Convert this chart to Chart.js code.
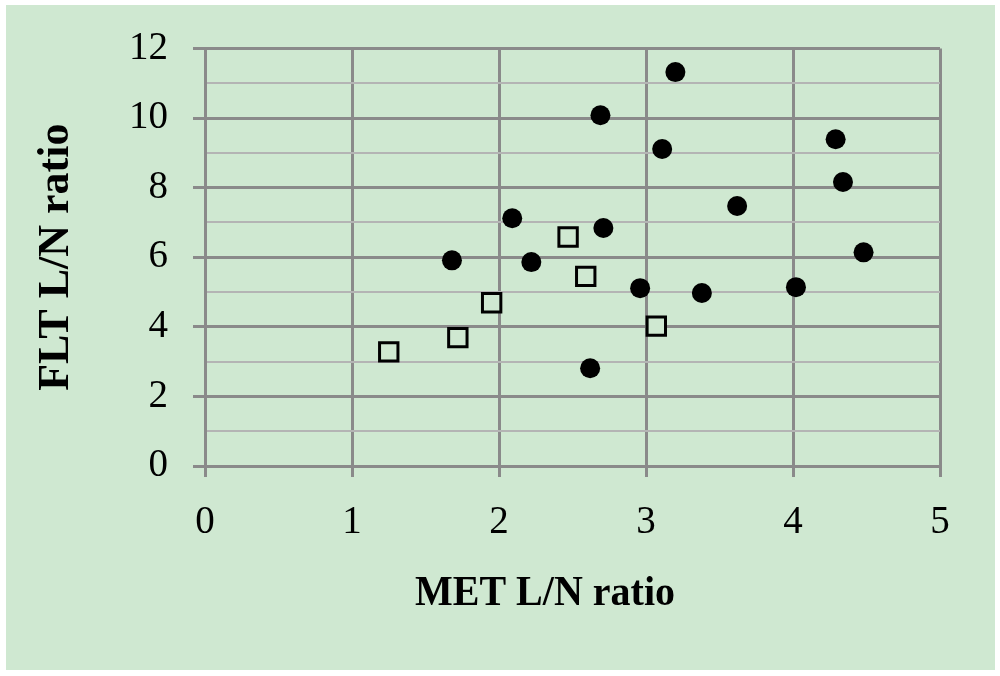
<!DOCTYPE html>
<html>
<head>
<meta charset="utf-8">
<script src="https://cdn.jsdelivr.net/npm/chart.js@4/dist/chart.umd.min.js"></script>
<style>
  html, body { margin: 0; padding: 0; background: #fff; }
  canvas { display: block; }
</style>
</head>
<body>
<canvas id="chart" width="1000" height="676"></canvas>
<script>
// data
const circleX = [1.68, 2.09, 2.22, 2.69, 2.71, 2.62, 2.96, 3.11, 3.20, 3.38, 3.62, 4.02, 4.29, 4.34, 4.48];
const circleY = [5.91, 7.12, 5.86, 10.08, 6.84, 2.81, 5.11, 9.11, 11.32, 4.97, 7.47, 5.14, 9.39, 8.16, 6.14];
const squareX = [1.25, 1.72, 1.95, 2.47, 2.59, 3.07];
const squareY = [3.28, 3.69, 4.69, 6.58, 5.45, 4.02];
const xTitle = 'MET L/N ratio';
const yTitle = 'FLT L/N ratio';

const green = '#cfe8d1';
const major = '#8a8a8a', minor = '#b4b4b4';
const serif = "'Liberation Serif', 'Times New Roman', serif";

const toPts = (xs, ys) => xs.map((x, i) => ({x, y: ys[i]}));

// green panel behind everything, x title drawn a bit left of the plot centre like the original
const panel = {
    id: 'panel',
    beforeDraw(chart) {
        const c = chart.ctx;
        c.save();
        c.fillStyle = '#fff';
        c.fillRect(0, 0, chart.width, chart.height);
        c.fillStyle = green;
        c.fillRect(6, 5, 989, 665);
        c.restore();
    },
    afterDraw(chart) {
        const c = chart.ctx;
        c.save();
        c.fillStyle = '#000';
        c.font = 'bold 40px ' + serif;
        c.textAlign = 'center';
        c.textBaseline = 'alphabetic';
        c.translate(545, 605);
        c.scale(1, 1.08);
        c.fillText(xTitle, 0, 0);
        c.restore();
    }
};

new Chart(document.getElementById('chart'), {
    type: 'scatter',
    plugins: [panel],
    data: {
        datasets: [
            { data: toPts(circleX, circleY), pointStyle: 'circle', pointRadius: 10, pointHoverRadius: 10,
              backgroundColor: '#000', borderColor: '#000', borderWidth: 0 },
            { data: toPts(squareX, squareY), pointStyle: 'rect', pointRadius: 13, pointHoverRadius: 13,
              backgroundColor: green, borderColor: '#000', borderWidth: 3 }
        ]
    },
    options: {
        responsive: false, animation: false,
        layout: { padding: { left: 0, top: 48, right: 60, bottom: 0 } },
        plugins: { legend: { display: false }, tooltip: { enabled: false } },
        scales: {
            x: {
                min: 0, max: 5,
                afterFit: s => { s.height = 210; },
                ticks: { stepSize: 1, color: '#000', padding: 22, font: { family: serif, size: 39 } },
                grid: { color: major, lineWidth: 3, tickLength: 11, tickColor: major },
                border: { color: major, width: 3 }
            },
            y: {
                min: 0, max: 12,
                afterFit: s => { s.width = 205; },
                ticks: { stepSize: 1, autoSkip: false, color: '#000', padding: 25, font: { family: serif, size: 39 },
                         callback: v => v % 2 ? '' : v },
                grid: {
                    color: c => c.tick && c.tick.value % 2 ? minor : major,
                    lineWidth: c => c.tick && c.tick.value % 2 ? 2 : 3,
                    tickColor: c => c.tick && c.tick.value % 2 ? 'rgba(0,0,0,0)' : major,
                    tickLength: 12
                },
                border: { color: major, width: 3 },
                title: { display: true, text: yTitle, color: '#000', padding: { top: 30, bottom: 0 },
                         font: { family: serif, size: 44, weight: 'bold' } }
            }
        }
    }
});
</script>
</body>
</html>
